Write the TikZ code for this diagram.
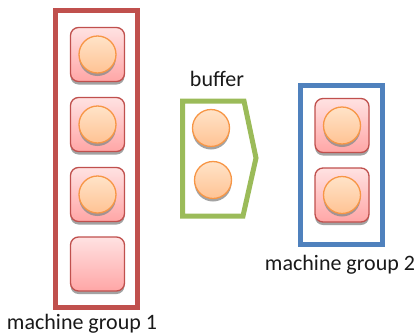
\documentclass[tikz,border=0pt]{standalone}
\usepackage{fontspec}
\setmainfont{Carlito}
\usetikzlibrary{shadows}
\definecolor{grpred}{HTML}{C0504D}
\definecolor{grpgreen}{HTML}{9BBB59}
\definecolor{grpblue}{HTML}{4F81BD}
\definecolor{boxedge}{HTML}{C0504D}
\definecolor{boxtop}{HTML}{FFE2E2}
\definecolor{boxbot}{HTML}{FFA6A6}
\definecolor{jobedge}{HTML}{F79646}
\definecolor{jobtop}{HTML}{FFE3C8}
\definecolor{jobbot}{HTML}{FFC394}
\tikzset{
  machine/.style={draw=boxedge, line width=1.3pt, rounded corners=8pt,
    minimum width=54pt, minimum height=54pt, inner sep=0pt,
    top color=boxtop, bottom color=boxbot,
    drop shadow={shadow xshift=0pt, shadow yshift=-3pt, fill=black!45, opacity=0.8}},
  job/.style={circle, draw=jobedge, line width=1.3pt, minimum size=37pt, inner sep=0pt,
    top color=jobtop, bottom color=jobbot,
    drop shadow={shadow xshift=0pt, shadow yshift=-3pt, fill=black!45, opacity=0.8}},
  frame/.style={line width=5pt},
  caption/.style={font=\fontsize{22}{24}\selectfont, text=black!90, inner sep=0pt}
}
\begin{document}
\begin{tikzpicture}[x=1pt, y=-1pt]
\useasboundingbox (0,0) rectangle (415,335);

% machine group 1
\draw[frame, grpred] (55.5,10.5) rectangle (137.5,307.5);
\node[machine] (m1) at (97.5,54.5) {};
\node[machine] (m2) at (97.5,124.5) {};
\node[machine] (m3) at (97.5,194.5) {};
\node[machine] (m4) at (97.5,264) {};
\node[job] (j1) at (m1) {};
\node[job] (j2) at (m2) {};
\node[job] (j3) at (m3) {};
\node[caption] (cap1) at (82,324) {machine group 1};

% buffer
\draw[frame, grpgreen] (182.5,101) -- (244,101) -- (256,158) -- (243,216) -- (182.5,216) -- cycle;
\node[job] (b1) at (211,128) {};
\node[job] (b2) at (213,180) {};
\node[caption] (cap2) at (217,79) {buffer};

% machine group 2
\draw[frame, grpblue] (300,85.5) rectangle (382,244.5);
\node[machine] (m5) at (342,125.5) {};
\node[machine] (m6) at (342,195) {};
\node[job] (j5) at (m5) {};
\node[job] (j6) at (m6) {};
\node[caption] (cap3) at (340,265) {machine group 2};
\end{tikzpicture}
\end{document}
